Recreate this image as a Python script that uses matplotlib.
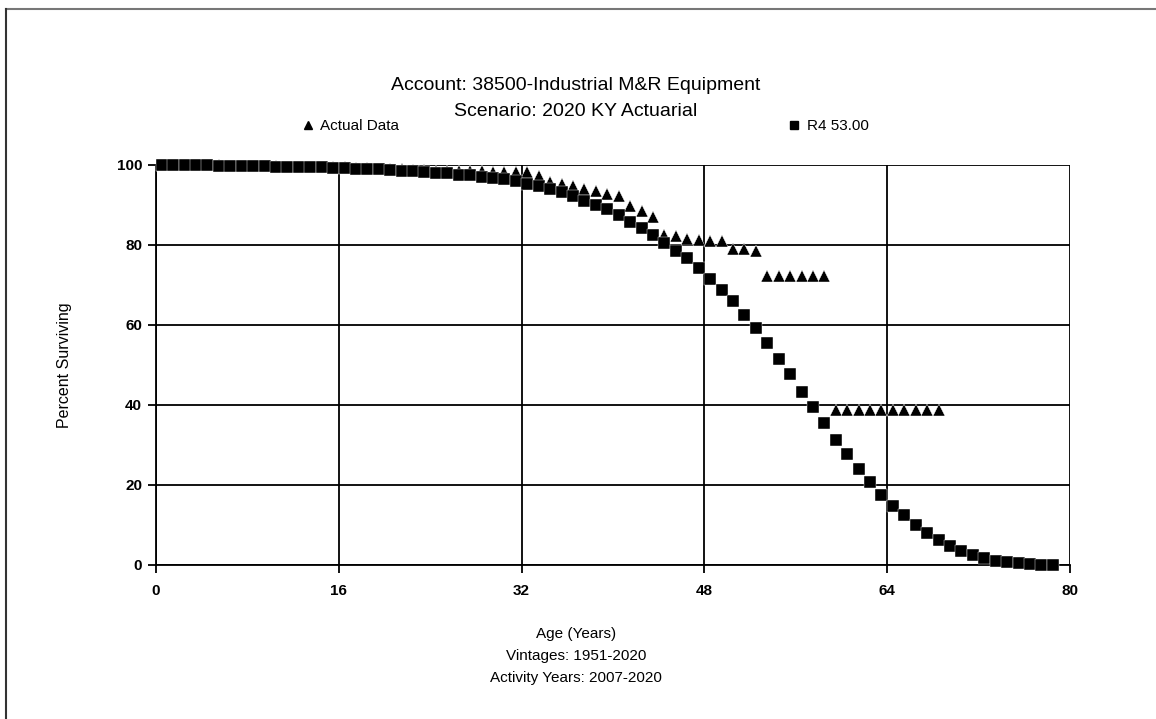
import matplotlib
matplotlib.use("Agg")
import matplotlib.pyplot as plt
from matplotlib.lines import Line2D

plt.rcParams['font.family'] = ['Liberation Sans', 'DejaVu Sans']

# R4 53.00 fitted curve (ages at half-years)
r4_age = [0.5, 1.5, 2.5, 3.5, 4.5, 5.5, 6.5, 7.5, 8.5, 9.5,
          10.5, 11.5, 12.5, 13.5, 14.5, 15.5, 16.5, 17.5, 18.5, 19.5,
          20.5, 21.5, 22.5, 23.5, 24.5, 25.5, 26.5, 27.5, 28.5, 29.5,
          30.5, 31.5, 32.5, 33.5, 34.5, 35.5, 36.5, 37.5, 38.5, 39.5,
          40.5, 41.5, 42.5, 43.5, 44.5, 45.5, 46.5, 47.5, 48.5, 49.5,
          50.5, 51.5, 52.5, 53.5, 54.5, 55.5, 56.5, 57.5, 58.5, 59.5,
          60.5, 61.5, 62.5, 63.5, 64.5, 65.5, 66.5, 67.5, 68.5, 69.5,
          70.5, 71.5, 72.5, 73.5, 74.5, 75.5, 76.5, 77.5, 78.5]
r4_pct = [100.0, 100.0, 99.9, 99.9, 99.9, 99.8, 99.8, 99.8, 99.7, 99.7,
          99.6, 99.6, 99.5, 99.4, 99.4, 99.3, 99.2, 99.1, 99.0, 98.9,
          98.8, 98.6, 98.5, 98.3, 98.1, 97.9, 97.6, 97.4, 97.1, 96.8,
          96.5, 96.1, 95.3, 94.7, 94.0, 93.2, 92.2, 91.1, 90.0, 89.0,
          87.6, 85.7, 84.2, 82.4, 80.6, 78.5, 76.8, 74.2, 71.5, 68.8,
          65.9, 62.6, 59.3, 55.4, 51.6, 47.7, 43.3, 39.4, 35.5, 31.3,
          27.8, 23.9, 20.7, 17.4, 14.8, 12.4, 10.1, 8.0, 6.3, 4.8,
          3.4, 2.4, 1.7, 1.1, 0.7, 0.4, 0.2, 0.1, 0.05]

# Actual data (observed life table)
act_age = [0.5, 1.5, 2.5, 3.5, 4.5, 5.5, 6.5, 7.5, 8.5, 9.5,
           10.5, 11.5, 12.5, 13.5, 14.5, 15.5, 16.5, 17.5, 18.5, 19.5,
           20.5, 21.5, 22.5, 23.5, 24.5, 25.5, 26.5, 27.5, 28.5, 29.5,
           30.5, 31.5, 32.5, 33.5, 34.5, 35.5, 36.5, 37.5, 38.5, 39.5,
           40.5, 41.5, 42.5, 43.5, 44.5, 45.5, 46.5, 47.5, 48.5, 49.5,
           50.5, 51.5, 52.5, 53.5, 54.5, 55.5, 56.5, 57.5, 58.5, 59.5,
           60.5, 61.5, 62.5, 63.5, 64.5, 65.5, 66.5, 67.5, 68.5]
act_pct = [100.0, 100.0, 100.0, 99.9, 99.9, 99.9, 99.8, 99.8, 99.8, 99.7,
           99.7, 99.6, 99.6, 99.6, 99.5, 99.4, 99.4, 99.3, 99.2, 99.1,
           99.0, 98.9, 98.8, 98.7, 98.6, 98.5, 98.6, 98.5, 98.4, 98.3,
           98.2, 98.2, 98.2, 97.2, 95.8, 95.2, 94.7, 93.9, 93.4, 92.8,
           92.3, 89.7, 88.5, 87.1, 82.4, 82.2, 81.5, 81.3, 81.1, 80.9,
           79.1, 79.1, 78.4, 72.2, 72.2, 72.2, 72.2, 72.2, 72.2, 38.8,
           38.8, 38.8, 38.8, 38.8, 38.8, 38.8, 38.8, 38.8, 38.8]

x_ticks = [0, 16, 32, 48, 64, 80]
y_ticks = [0, 20, 40, 60, 80, 100]

W, H = 1156, 719
fig = plt.figure(figsize=(W / 100, H / 100), dpi=100)
ax = fig.add_axes([156 / W, 1 - 565 / H, (1070 - 156) / W, (565 - 165) / H])

ax.plot(act_age, act_pct, linestyle='none', marker='^', markersize=8.5,
        color='black', markeredgecolor='white', markeredgewidth=0.3,
        zorder=3, clip_on=False, label='Actual Data')
ax.plot(r4_age, r4_pct, linestyle='none', marker='s', markersize=8.3,
        color='black', markeredgecolor='white', markeredgewidth=0.3,
        zorder=4, clip_on=False, label='R4 53.00')

ax.set_xlim(0, 80)
ax.set_ylim(0, 100)
ax.set_xticks(x_ticks)
ax.set_yticks(y_ticks)
ax.grid(True, color='black', linewidth=1.3)
ax.set_axisbelow(True)
for s in ['right', 'top']:
    ax.spines[s].set_visible(False)
ax.spines['left'].set_linewidth(1.3)
ax.spines['bottom'].set_linewidth(1.3)
ax.tick_params(axis='both', direction='out', length=6, width=1.3,
               color='black', labelsize=11)
for lab in ax.get_xticklabels() + ax.get_yticklabels():
    lab.set_fontweight('bold')
ax.tick_params(axis='x', pad=8)
ax.tick_params(axis='y', pad=4)

ax.set_ylabel('Percent Surviving', fontsize=11.5, labelpad=32)

cx = 0.498
fig.text(cx, 1 - 85 / H, 'Account: 38500-Industrial M&R Equipment',
         ha='center', va='center', fontsize=14)
fig.text(cx, 1 - 111 / H, 'Scenario: 2020 KY Actuarial',
         ha='center', va='center', fontsize=14)

fig.text(cx, 1 - 634 / H, 'Age (Years)', ha='center', va='center', fontsize=11)
fig.text(cx, 1 - 656 / H, 'Vintages: 1951-2020', ha='center', va='center', fontsize=11)
fig.text(cx, 1 - 678 / H, 'Activity Years: 2007-2020', ha='center', va='center', fontsize=11)

handles = [Line2D([], [], linestyle='none', marker='^', color='black', markersize=6),
           Line2D([], [], linestyle='none', marker='s', color='black', markersize=5.5)]
fig.legend(handles, ['Actual Data', 'R4 53.00'], ncol=2, frameon=False,
           loc='center', bbox_to_anchor=(585 / W, 1 - 126 / H),
           columnspacing=25.5, handlelength=0.8, handletextpad=0.4, fontsize=11)

# outer frame (top and left edges visible in the reference)
fig.add_artist(Line2D([6 / W, 1.0], [1 - 9 / H, 1 - 9 / H], color='#777777',
                      linewidth=1.5, transform=fig.transFigure))
fig.add_artist(Line2D([6 / W, 6 / W], [1 - 9 / H, 0.0], color='#333333',
                      linewidth=1.5, transform=fig.transFigure))

fig.savefig('out.png', dpi=100, facecolor='white')
